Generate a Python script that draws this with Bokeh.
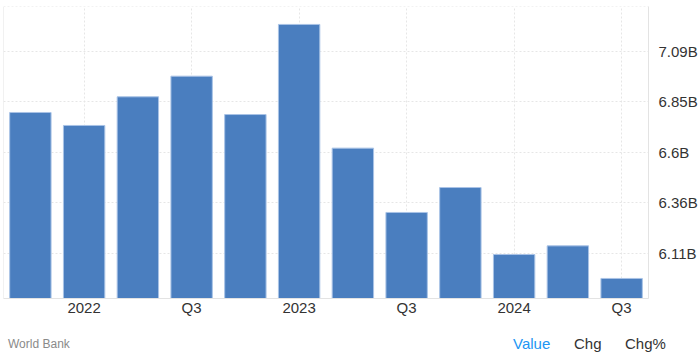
from bokeh.plotting import figure
from bokeh.layouts import column
from bokeh.models import ColumnDataSource, FixedTicker, Range1d, Span, Div
from bokeh.embed import file_html
from bokeh.resources import INLINE

# ---- data ----
quarters = ["2021 Q4", "2022 Q1", "2022 Q2", "2022 Q3", "2022 Q4", "2023 Q1",
            "2023 Q2", "2023 Q3", "2023 Q4", "2024 Q1", "2024 Q2", "2024 Q3"]
values_b = [6.794, 6.731, 6.870, 6.970, 6.784, 7.221,
            6.621, 6.309, 6.430, 6.105, 6.147, 5.989]
x_tick_idx = [1, 3, 5, 7, 9, 11]
x_tick_labels = ["2022", "Q3", "2023", "Q3", "2024", "Q3"]
y_ticks = [6.11, 6.355, 6.6, 6.845, 7.09]
y_tick_labels = ["6.11B", "6.36B", "6.6B", "6.85B", "7.09B"]
source_text = "World Bank"
toggle_texts = ["Value", "Chg", "Chg%"]

FONT = "Liberation Sans"
Y0, Y1 = 5.8917, 7.308

src = ColumnDataSource(dict(x=list(range(len(quarters))), top=values_b,
                            q=quarters))

p = figure(width=700, height=332, output_backend="svg", toolbar_location=None,
           x_range=Range1d(-0.5, len(quarters) - 0.5),
           y_range=Range1d(Y0, Y1),
           y_axis_location="right",
           min_border_left=3, min_border_right=48,
           min_border_top=6, min_border_bottom=34)
p.outline_line_color = None
p.background_fill_color = "white"
p.border_fill_color = "white"

p.vbar(x="x", top="top", bottom=Y0, width=0.77, source=src,
       fill_color="#4a7ebf", line_color="#a9c3e6", line_width=1)

# axes
xa = p.xaxis[0]
xa.ticker = FixedTicker(ticks=x_tick_idx)
xa.major_label_overrides = {i: l for i, l in zip(x_tick_idx, x_tick_labels)}
xa.axis_line_color = "#e3e3e3"
xa.major_tick_line_color = None
xa.minor_tick_line_color = None
xa.major_label_text_font = FONT
xa.major_label_text_font_size = "15px"
xa.major_label_text_color = "#333333"
xa.major_label_standoff = -6

ya = p.yaxis[0]
ya.ticker = FixedTicker(ticks=y_ticks)
ya.major_label_overrides = {t: l for t, l in zip(y_ticks, y_tick_labels)}
ya.axis_line_color = "#e3e3e3"
ya.major_tick_line_color = None
ya.minor_tick_line_color = None
ya.major_label_text_font = FONT
ya.major_label_text_font_size = "15px"
ya.major_label_text_color = "#333333"
ya.major_label_standoff = 4

for g in (p.xgrid[0], p.ygrid[0]):
    g.grid_line_color = "#e6e6e6"
    g.grid_line_dash = "2 2"
    g.grid_line_width = 1
p.xgrid[0].ticker = FixedTicker(ticks=x_tick_idx)
p.ygrid[0].ticker = FixedTicker(ticks=y_ticks)

p.add_layout(Span(location=-0.5, dimension="height", line_color="#e3e3e3",
                  line_width=1))
p.add_layout(Span(location=Y1, dimension="width", line_color="#e6e6e6",
                  line_width=1, line_dash="2 2"))

# ---- footer strip ----
toggle_left = [513, 574, 625]
toggle_colors = ["#2196f3", "#333333", "#333333"]
spans = [f'<span style="position:absolute;left:8px;top:5px;'
         f'font:12px \'{FONT}\';color:#8a8a8a;white-space:nowrap">{source_text}</span>']
for t, lx, c in zip(toggle_texts, toggle_left, toggle_colors):
    spans.append(f'<span style="position:absolute;left:{lx}px;top:3px;'
                 f'font:15px \'{FONT}\';color:{c};white-space:nowrap">{t}</span>')
footer = Div(text=('<div style="position:relative;width:700px;height:30px;'
                   'background:white">' + "".join(spans) + "</div>"),
             width=700, height=30, margin=0)

layout = column(p, footer, spacing=0)
open("out.html", "w").write(file_html(layout, INLINE))
